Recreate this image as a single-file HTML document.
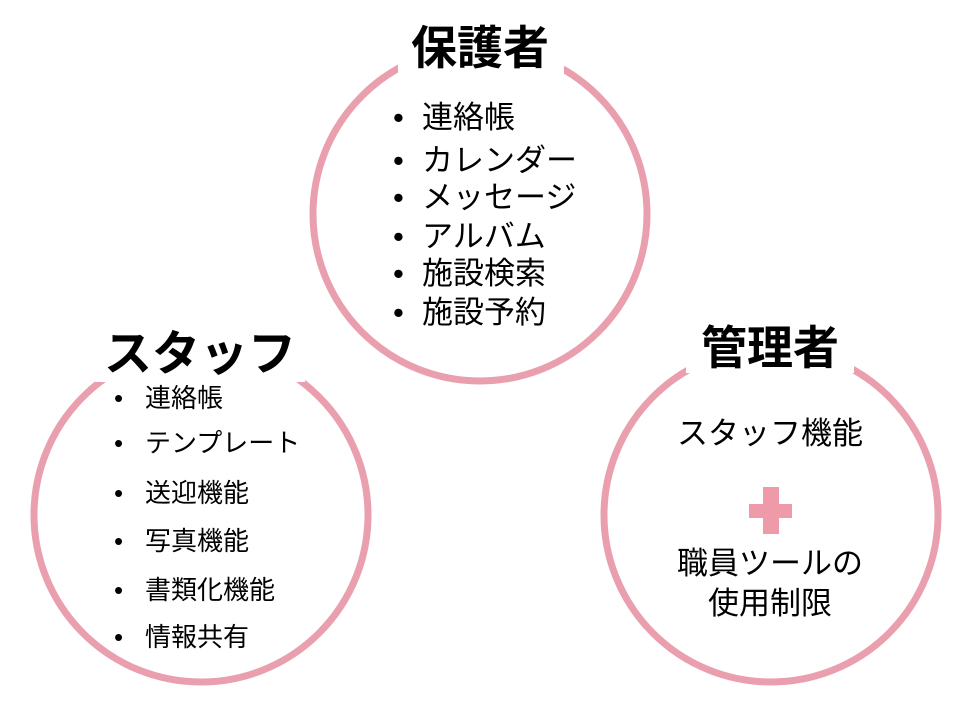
<!DOCTYPE html>
<html><head><meta charset="utf-8"><style>
html,body{margin:0;padding:0;background:#fff;}
svg text{font-family:"Liberation Sans","Noto Sans CJK JP",sans-serif;fill:#000;}
</style></head><body>
<svg width="960" height="720" viewBox="0 0 960 720" xmlns="http://www.w3.org/2000/svg">
<rect width="960" height="720" fill="#fff"/>
<g fill="none" stroke="#e99fae" stroke-width="7">
<circle cx="480" cy="214" r="167"/>
<circle cx="201" cy="515" r="167"/>
<circle cx="771" cy="515" r="167"/>
</g>
<rect x="398" y="10" width="166" height="70" fill="#fff"/>
<rect x="95" y="320" width="210" height="62" fill="#fff"/>
<rect x="686" y="315" width="168" height="58" fill="#fff"/>
<text x="480" y="64" font-size="46" font-weight="bold" text-anchor="middle">保護者</text>
<text x="200" y="370" font-size="48" font-weight="bold" text-anchor="middle">スタッフ</text>
<text x="770" y="364" font-size="46" font-weight="bold" text-anchor="middle">管理者</text>
<g font-size="31">
<text x="393" y="128">•</text><text x="422" y="128">連絡帳</text>
<text x="393" y="171">•</text><text x="422" y="171">カレンダー</text>
<text x="393" y="208">•</text><text x="422" y="208">メッセージ</text>
<text x="393" y="247">•</text><text x="422" y="247">アルバム</text>
<text x="393" y="284">•</text><text x="422" y="284">施設検索</text>
<text x="393" y="323">•</text><text x="422" y="323">施設予約</text>
</g>
<g font-size="26">
<text x="114" y="407">•</text><text x="145" y="407">連絡帳</text>
<text x="114" y="452">•</text><text x="145" y="452">テンプレート</text>
<text x="114" y="502">•</text><text x="145" y="502">送迎機能</text>
<text x="114" y="550">•</text><text x="145" y="550">写真機能</text>
<text x="114" y="599">•</text><text x="145" y="599">書類化機能</text>
<text x="114" y="646">•</text><text x="145" y="646">情報共有</text>
</g>
<g font-size="31" text-anchor="middle">
<text x="770" y="444">スタッフ機能</text>
<text x="770" y="574">職員ツールの</text>
<text x="770" y="614">使用制限</text>
</g>
<rect x="749" y="504" width="43" height="14" fill="#ee9aa9"/>
<rect x="763" y="487" width="16" height="47" fill="#ee9aa9"/>
</svg>
</body></html>
